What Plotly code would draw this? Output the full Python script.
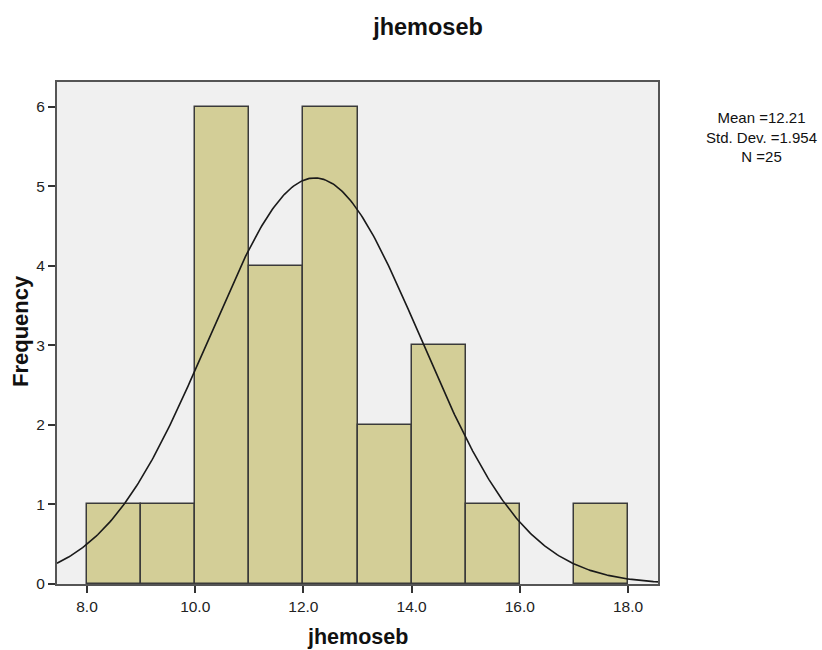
import numpy as np
import plotly.graph_objects as go

# Histogram of jhemoseb: bin edges and frequencies
bin_left = [8.0, 9.0, 10.0, 11.0, 12.0, 13.0, 14.0, 15.0, 16.0, 17.0]
bin_width = 1.0
frequency = [1, 1, 6, 4, 6, 2, 3, 1, 0, 1]

mean_val = 12.21
std_dev = 1.954
n_obs = 25

x_ticks = [8.0, 10.0, 12.0, 14.0, 16.0, 18.0]
y_ticks = [0, 1, 2, 3, 4, 5, 6]

x_range = [7.445, 18.555]
y_range = [0, 6.31]

centers = [b + bin_width / 2 for b in bin_left]
# empty bins draw nothing (no outline along the baseline)
bar_heights = [f if f > 0 else None for f in frequency]

# Normal curve scaled to counts
xs = np.linspace(x_range[0], x_range[1], 400)
ys = n_obs * bin_width / (std_dev * np.sqrt(2 * np.pi)) * np.exp(-0.5 * ((xs - mean_val) / std_dev) ** 2)

font_family = "Liberation Sans, Arial, sans-serif"

W, H = 822, 650
L, R, T, B = 57, 164, 82, 66
pw, ph = W - L - R, H - T - B


def px_x(px):
    return (px - L) / pw


def px_y(py):
    return 1 - (py - T) / ph


fig = go.Figure()
fig.add_trace(go.Bar(
    x=centers, y=bar_heights, width=[bin_width] * len(centers),
    marker=dict(color="#d3ce97", line=dict(color="#3a3a3a", width=1.5)),
    hoverinfo="x+y",
))
fig.add_trace(go.Scatter(
    x=xs, y=ys, mode="lines",
    line=dict(color="#1a1a1a", width=1.6),
    hoverinfo="skip",
))

axis_common = dict(
    showgrid=False, zeroline=False, automargin=False,
    showline=True, mirror=True, linecolor="#555", linewidth=2,
    ticks="outside", ticklen=7, tickcolor="#333", tickwidth=1.5,
    tickfont=dict(size=15.5, color="#222"),
)

annotations = [
    dict(
        text=f"Mean ={mean_val}<br>Std. Dev. ={std_dev}<br>N ={n_obs}",
        xref="paper", yref="paper", x=px_x(761), y=px_y(137),
        xanchor="center", yanchor="middle", align="center", showarrow=False,
        font=dict(size=15, color="#111", family=font_family),
    ),
    dict(
        text="<b>jhemoseb</b>", xref="paper", yref="paper",
        x=px_x(357), y=px_y(637),
        xanchor="center", yanchor="middle", showarrow=False,
        font=dict(size=21.5, color="#111", family=font_family),
    ),
    dict(
        text="<b>Frequency</b>", xref="paper", yref="paper",
        x=px_x(20), y=px_y(331), textangle=-90,
        xanchor="center", yanchor="middle", showarrow=False,
        font=dict(size=22, color="#111", family=font_family),
    ),
]

fig.update_layout(
    width=W, height=H,
    margin=dict(l=L, r=R, t=T, b=B),
    paper_bgcolor="white",
    plot_bgcolor="#f0f0f0",
    showlegend=False,
    bargap=0,
    font=dict(family=font_family, size=13, color="#222"),
    title=dict(text="<b>jhemoseb</b>", x=428 / W, xanchor="center",
               y=1 - 27 / H, yanchor="middle",
               font=dict(size=23.5, color="#111")),
    xaxis=dict(range=x_range, tickvals=x_ticks, tickformat=".1f", **axis_common),
    yaxis=dict(range=y_range, tickvals=y_ticks, **axis_common),
    annotations=annotations,
)

fig.write_html("out.html")
